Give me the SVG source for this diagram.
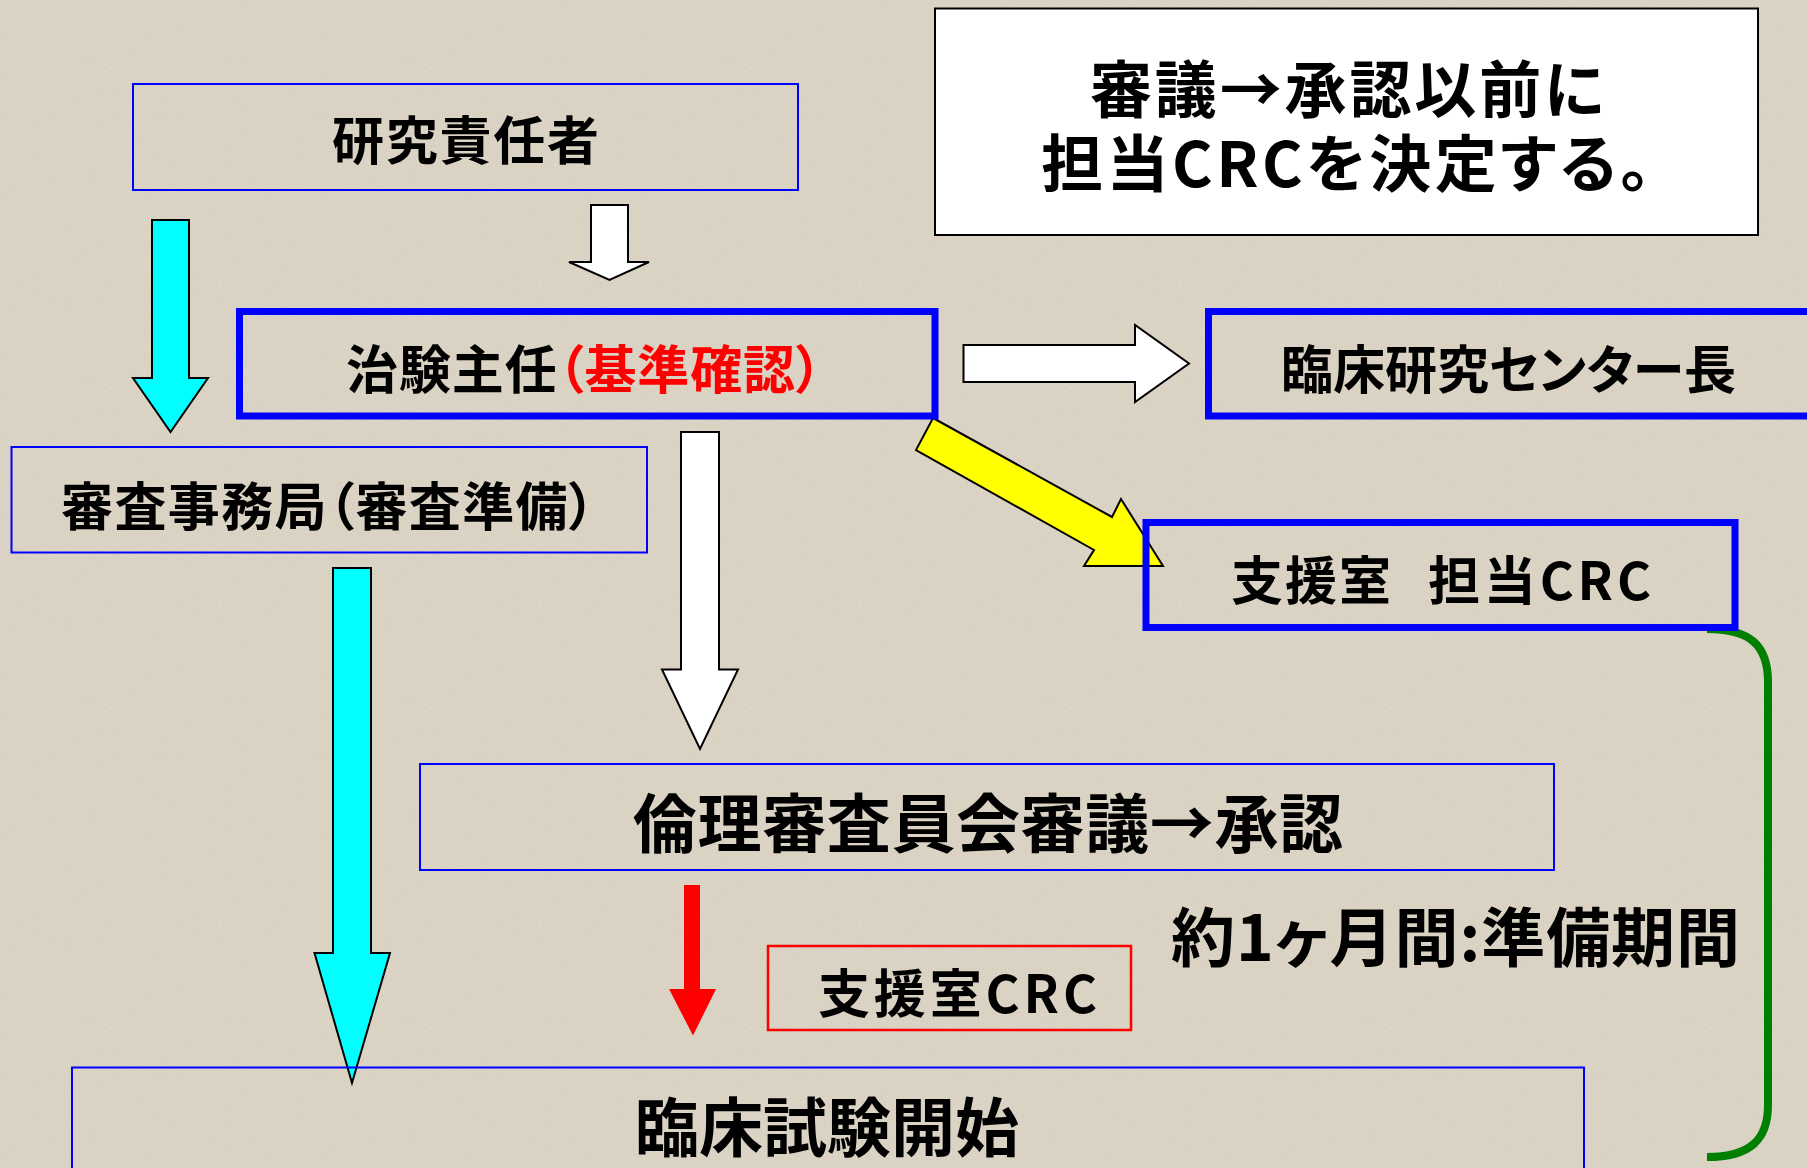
<svg xmlns="http://www.w3.org/2000/svg" width="1807" height="1168" viewBox="0 0 1807 1168">
<defs>
<filter id="grain" x="0" y="0" width="100%" height="100%">
<feTurbulence type="fractalNoise" baseFrequency="0.8" numOctaves="2" seed="7" result="n"/>
<feColorMatrix in="n" type="matrix" values="0 0 0 0 0.55  0 0 0 0 0.5  0 0 0 0 0.42  0.8 0 0 0 -0.3"/>
</filter>
<style>
.t{font-family:"Noto Sans CJK JP","Noto Sans CJK SC",sans-serif;font-weight:700;fill:#000;dominant-baseline:central;font-feature-settings:"palt"}
.s{font-size:52px}
.l{font-size:64px}
.red{fill:#ff0000}
.thin{fill:none;stroke:#0000ff;stroke-width:2}
.thick{fill:none;stroke:#0000ff;stroke-width:7}
.arr{stroke:#000;stroke-width:2;stroke-linejoin:miter}
</style>
</defs>
<rect x="0" y="0" width="1807" height="1168" fill="#ddd5c6"/>
<rect x="0" y="0" width="1807" height="1168" filter="url(#grain)"/>

<g id="connectors">
<polygon class="arr" fill="#ffffff" points="591,205 628,205 628,262 649,262 609.5,280 569,262 591,262"/>
<polygon class="arr" fill="#00ffff" points="152,220 189,220 189,378 208,378 170.5,432 133,378 152,378"/>
<polygon class="arr" fill="#00ffff" points="333,568 371,568 371,953 390,953 352,1083 314.5,953 333,953"/>
<polygon class="arr" fill="#ffffff" points="681,432 719,432 719,669.5 738,669.5 700,749 662,669.5 681,669.5"/>
<polygon fill="#ff0000" points="684,885 700,885 700,989 716,989 693,1035.5 669,989 684,989"/>
<polygon class="arr" fill="#ffffff" points="963.5,345 1135,345 1135,325 1189,363.5 1135,402 1135,382 963.5,382"/>
<polygon class="arr" fill="#ffff00" points="933,418 1112,517 1121,499 1163,566 1084,566 1094,550 916,450"/>
<path d="M1707,629 C1750,629 1768,645 1768,682 V1105 C1768,1140 1750,1157 1707,1157" fill="none" stroke="#008000" stroke-width="8"/>
</g>

<g id="note">
<rect x="935" y="8.5" width="823" height="226.5" fill="#ffffff" stroke="#000" stroke-width="2"/>
<text class="t" x="1090" y="86" font-size="62" textLength="514">審議→承認以前に</text>
<text class="t" x="1041" y="160" font-size="62" textLength="610">担当CRCを決定する。</text>
</g>

<g id="n-kenkyu">
<rect class="thin" x="133" y="84" width="665" height="106"/>
<text class="t s" x="332" y="137" textLength="267">研究責任者</text>
</g>

<g id="n-chiken">
<rect class="thick" x="239.5" y="311.5" width="695.5" height="104.5"/>
<text class="t s" x="346" y="366" textLength="476">治験主任<tspan class="red">（基準確認）</tspan></text>
</g>

<g id="n-center">
<rect class="thick" x="1208.5" y="311.5" width="700" height="104.5"/>
<text class="t s" x="1281" y="366" textLength="455">臨床研究センター長</text>
</g>

<g id="n-jimu">
<rect class="thin" x="11.5" y="447" width="635.5" height="105.5"/>
<text class="t s" x="61" y="503" textLength="534">審査事務局（審査準備）</text>
</g>

<g id="n-tanto">
<rect class="thick" x="1146" y="522.5" width="589" height="105"/>
<text class="t s" x="1231" y="577" textLength="160">支援室</text>
<text class="t s" x="1428" y="577" textLength="223">担当CRC</text>
</g>

<g id="n-rinri">
<rect class="thin" x="420" y="764" width="1134" height="106"/>
<text class="t l" x="633" y="819" textLength="710">倫理審査員会審議→承認</text>
</g>

<g id="n-period">
<text class="t l" x="1171" y="933" textLength="569">約1ヶ月間:準備期間</text>
</g>

<g id="n-crc">
<rect x="768" y="946" width="363" height="84" fill="none" stroke="#ff0000" stroke-width="2.5"/>
<text class="t s" x="818" y="990" textLength="279">支援室CRC</text>
</g>

<g id="n-start">
<rect class="thin" x="72" y="1067.5" width="1512" height="200"/>
<text class="t l" x="635" y="1123" textLength="384">臨床試験開始</text>
</g>
</svg>
